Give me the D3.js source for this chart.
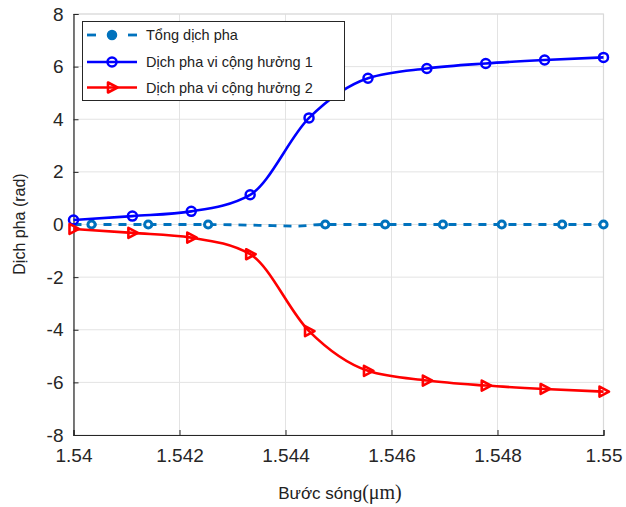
<!DOCTYPE html>
<html><head><meta charset="utf-8">
<script src="https://cdn.jsdelivr.net/npm/d3@7"></script>
<style>body{margin:0;background:#fff}svg{display:block}</style>
</head><body>
<svg id="c" width="626" height="507"></svg>
<script>
// ---- data ----
const wl = [1.54, 1.541111, 1.542222, 1.543333, 1.544444, 1.545556, 1.546667, 1.547778, 1.548889, 1.55];
const phase1 = [0.17, 0.32, 0.50, 1.13, 4.05, 5.56, 5.93, 6.12, 6.25, 6.35];
const phase2 = [-0.17, -0.32, -0.50, -1.13, -4.05, -5.56, -5.93, -6.12, -6.25, -6.35];
const sumLineX = [1.54, 1.5425, 1.5435, 1.5442, 1.5447, 1.55];
const sumLineY = [0, 0, -0.03, -0.06, 0, 0];
const sumMarkX = [1.54034, 1.54141, 1.54254, 1.54475, 1.54588, 1.54697, 1.54808, 1.54922, 1.55];
const sumMarkY = [0, 0, 0, 0, 0, 0, 0, 0, 0];
const xTicks = [1.54, 1.542, 1.544, 1.546, 1.548, 1.55];
const yTicks = [-8, -6, -4, -2, 0, 2, 4, 6, 8];
const legendLabels = ["Tổng dịch pha", "Dịch pha vi cộng hưởng 1", "Dịch pha vi cộng hưởng 2"];

const svg = d3.select("#c");
const L = 73.5, R = 603.5, T = 14, B = 435;
const x = d3.scaleLinear().domain([1.54, 1.55]).range([L, R]);
const y = d3.scaleLinear().domain([-8, 8]).range([B, T]);

// grid
const g = svg.append("g");
g.selectAll(".gx").data(xTicks).join("line")
  .attr("x1", d => x(d)).attr("x2", d => x(d)).attr("y1", T).attr("y2", B)
  .attr("stroke", "#e3e3e3").attr("stroke-width", 1);
g.selectAll(".gy").data(yTicks).join("line")
  .attr("y1", d => y(d)).attr("y2", d => y(d)).attr("x1", L).attr("x2", R)
  .attr("stroke", "#e3e3e3").attr("stroke-width", 1);
// box top/right
svg.append("path").attr("d", `M${L},${T}H${R}V${B}`).attr("fill", "none").attr("stroke", "#d9d9d9").attr("stroke-width", 1.2);

// axes
const ax = d3.axisBottom(x).tickValues(xTicks).tickSize(-5).tickPadding(10).tickFormat(d => String(+d.toFixed(3)));
const ay = d3.axisLeft(y).tickValues(yTicks).tickSize(-5).tickPadding(10).tickFormat(d => String(d));
const gxA = svg.append("g").attr("transform", `translate(0,${B})`).call(ax);
const gyA = svg.append("g").attr("transform", `translate(${L},0)`).call(ay);
[gxA, gyA].forEach(a => {
  a.select(".domain").attr("stroke", "#262626").attr("stroke-width", 1.2);
  a.selectAll(".tick line").attr("stroke", "#262626");
  a.selectAll(".tick text").attr("fill", "#262626").attr("font-family", "Liberation Sans, Arial, sans-serif").attr("font-size", 19);
});
gxA.selectAll(".tick text").attr("dy", "0.9em");

// axis labels
svg.append("text").attr("x", 340).attr("y", 499).attr("text-anchor", "middle")
  .attr("font-family", "Liberation Sans, Arial, sans-serif").attr("font-size", 17).attr("fill", "#222")
  .text("Bước sóng").append("tspan").attr("font-family", "Liberation Serif, Times New Roman, serif").attr("font-size", 20).text("(μm)");
svg.append("text").attr("transform", "translate(25,224) rotate(-90)").attr("text-anchor", "middle")
  .attr("font-family", "Liberation Sans, Arial, sans-serif").attr("font-size", 16).attr("fill", "#222")
  .text("Dịch pha (rad)");

// sum line
const lineS = d3.line().x((d, i) => x(sumLineX[i])).y(d => y(d)).curve(d3.curveMonotoneX);
svg.append("path").attr("d", lineS(sumLineY)).attr("fill", "none").attr("stroke", "#0072BD")
  .attr("stroke-width", 2.8).attr("stroke-dasharray", "8,7");
svg.append("g").selectAll("circle").data(sumMarkY).join("circle")
  .attr("cx", (d, i) => x(sumMarkX[i])).attr("cy", d => y(d)).attr("r", 3.6)
  .attr("fill", "#fff").attr("stroke", "#0072BD").attr("stroke-width", 3);

// series lines
const line = d3.line().x((d, i) => x(wl[i])).y(d => y(d)).curve(d3.curveMonotoneX);
svg.append("path").attr("d", line(phase1)).attr("fill", "none").attr("stroke", "#0000FF").attr("stroke-width", 2.6);
svg.append("path").attr("d", line(phase2)).attr("fill", "none").attr("stroke", "#FF0000").attr("stroke-width", 2.6);

svg.append("g").selectAll("circle").data(phase1).join("circle")
  .attr("cx", (d, i) => x(wl[i])).attr("cy", d => y(d)).attr("r", 4.5)
  .attr("fill", "none").attr("stroke", "#0000FF").attr("stroke-width", 2.5);
const tri = "M-4,-5L5.5,0L-4,5Z";
svg.append("g").selectAll("path").data(phase2).join("path")
  .attr("transform", (d, i) => `translate(${x(wl[i])},${y(d)})`).attr("d", tri)
  .attr("fill", "none").attr("stroke", "#FF0000").attr("stroke-width", 2.6).attr("stroke-linejoin", "round");

// legend
const lg = svg.append("g");
lg.append("rect").attr("x", 82.5).attr("y", 21.5).attr("width", 262).attr("height", 79)
  .attr("fill", "#fff").attr("stroke", "#262626").attr("stroke-width", 1);
const rows = [35, 62, 87.5];
const colors = ["#0072BD", "#0000FF", "#FF0000"];
rows.forEach((ry, i) => {
  if (i === 0) {
    lg.append("line").attr("x1", 87).attr("x2", 96).attr("y1", ry).attr("y2", ry).attr("stroke", colors[0]).attr("stroke-width", 2.8);
    lg.append("line").attr("x1", 128).attr("x2", 137).attr("y1", ry).attr("y2", ry).attr("stroke", colors[0]).attr("stroke-width", 2.8);
    lg.append("circle").attr("cx", 112).attr("cy", ry).attr("r", 4.5).attr("fill", colors[0]).attr("stroke", colors[0]).attr("stroke-width", 1.5);
  } else if (i === 1) {
    lg.append("line").attr("x1", 87).attr("x2", 137).attr("y1", ry).attr("y2", ry).attr("stroke", colors[1]).attr("stroke-width", 2.6);
    lg.append("circle").attr("cx", 112).attr("cy", ry).attr("r", 4.5).attr("fill", "none").attr("stroke", colors[1]).attr("stroke-width", 2.5);
  } else {
    lg.append("line").attr("x1", 87).attr("x2", 137).attr("y1", ry).attr("y2", ry).attr("stroke", colors[2]).attr("stroke-width", 2.6);
    lg.append("path").attr("transform", `translate(112,${ry})`).attr("d", tri).attr("fill", "none")
      .attr("stroke", colors[2]).attr("stroke-width", 2.6).attr("stroke-linejoin", "round");
  }
  lg.append("text").attr("x", 146).attr("y", ry).attr("dy", "0.35em")
    .attr("font-family", "Liberation Sans, Arial, sans-serif").attr("font-size", 14.5).attr("fill", "#222")
    .text(legendLabels[i]);
});
</script>
</body></html>
